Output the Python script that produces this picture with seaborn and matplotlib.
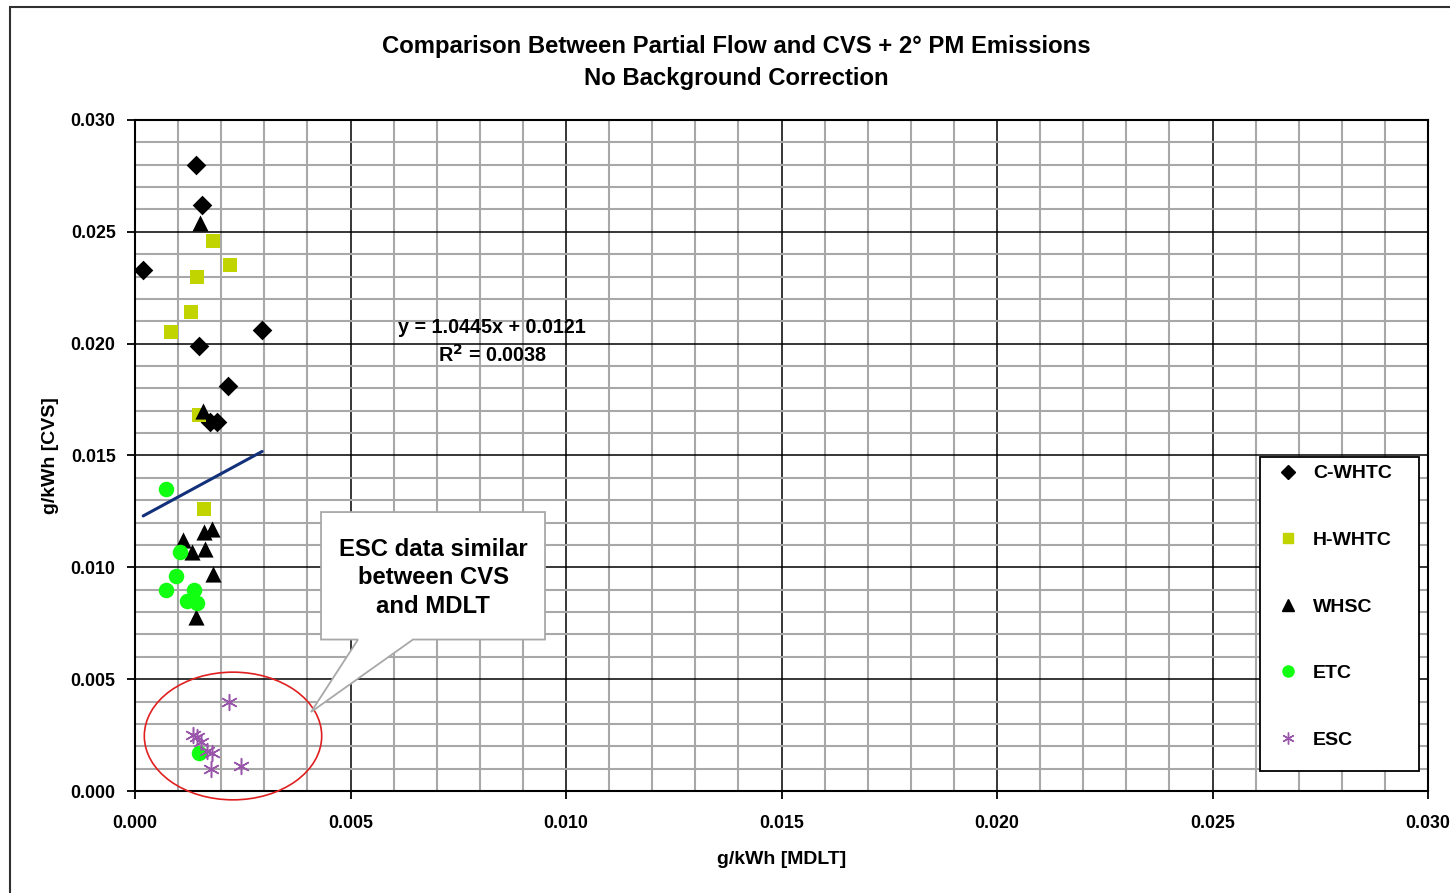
import numpy as np
import pandas as pd
import matplotlib
matplotlib.use("Agg")
import matplotlib.pyplot as plt
import seaborn as sns
from matplotlib.ticker import MultipleLocator, FormatStrFormatter
from matplotlib.patches import Ellipse, Polygon, Rectangle
from matplotlib.lines import Line2D

# ---- data: g/kWh, MDLT (x) vs CVS (y) ----
cwhtc_x = [0.00142, 0.00155, 0.00019, 0.00295, 0.00148, 0.00216, 0.00174, 0.00190]
cwhtc_y = [0.0280, 0.0262, 0.0233, 0.0206, 0.0199, 0.0181, 0.0165, 0.0165]

hwhtc_x = [0.00182, 0.00220, 0.00143, 0.00129, 0.00084, 0.00149, 0.00160]
hwhtc_y = [0.0246, 0.0235, 0.0230, 0.0214, 0.0205, 0.0168, 0.0126]

whsc_x = [0.00151, 0.00157, 0.00112, 0.00132, 0.00162, 0.00178, 0.00160, 0.00180, 0.00141]
whsc_y = [0.0254, 0.0170, 0.0112, 0.0107, 0.0108, 0.0117, 0.0116, 0.0097, 0.0078]

etc_x = [0.00073, 0.00104, 0.00094, 0.00073, 0.00137, 0.00121, 0.00145, 0.00149]
etc_y = [0.0135, 0.0107, 0.0096, 0.0090, 0.0090, 0.0085, 0.0084, 0.0017]

esc_x = [0.00217, 0.00135, 0.00143, 0.00152, 0.00178, 0.00176, 0.00246, 0.00168]
esc_y = [0.0040, 0.0025, 0.0024, 0.0022, 0.0017, 0.0010, 0.0011, 0.0018]

# linear trend fitted over all points
trend_slope = 1.0445
trend_intercept = 0.0121
trend_r2 = 0.0038

axis_ticks = [0.000, 0.005, 0.010, 0.015, 0.020, 0.025, 0.030]
series_names = ["C-WHTC", "H-WHTC", "WHSC", "ETC", "ESC"]

# ---- styling ----
sns.set_style("white")
plt.rcParams["font.family"] = ["Liberation Sans", "DejaVu Sans"]
plt.rcParams["font.weight"] = "bold"
for key in ("text.color", "axes.labelcolor", "xtick.color", "ytick.color"):
    plt.rcParams[key] = "black"

W, H = 1450, 893
fig = plt.figure(figsize=(W / 100, H / 100), dpi=100)
ax = fig.add_axes([135 / W, (H - 791) / H, 1293 / W, 671 / H])

# chart-area frame
fig.patches.append(Rectangle((10 / W, -0.05), 1.1, (H - 7.5) / H + 0.05,
                             transform=fig.transFigure, fill=False,
                             edgecolor="#303030", linewidth=1.5, zorder=0))

styles = {
    "C-WHTC": dict(marker="D", color="black", s=100),
    "H-WHTC": dict(marker="s", color="#c2d400", s=100),
    "WHSC": dict(marker="^", color="black", s=135),
    "ETC": dict(marker="o", color="#11ff11", s=125),
    "ESC": dict(marker=(6, 2, 0), color="#9955aa", s=130),
}
data = {
    "C-WHTC": (cwhtc_x, cwhtc_y),
    "H-WHTC": (hwhtc_x, hwhtc_y),
    "WHSC": (whsc_x, whsc_y),
    "ETC": (etc_x, etc_y),
    "ESC": (esc_x, esc_y),
}

for name in series_names:
    xs, ys = data[name]
    st = styles[name]
    df = pd.DataFrame({"MDLT": xs, "CVS": ys})
    kw = dict(linewidth=0, edgecolor=st["color"]) if name != "ESC" else dict(linewidth=1.1)
    sns.scatterplot(data=df, x="MDLT", y="CVS", ax=ax, marker=st["marker"],
                    color=st["color"], s=st["s"], zorder=4, legend=False, **kw)

# trend line across the data range
all_x = np.concatenate([cwhtc_x, hwhtc_x, whsc_x, etc_x, esc_x])
tx = np.array([all_x.min(), all_x.max()])
trend_df = pd.DataFrame({"MDLT": tx, "CVS": trend_slope * tx + trend_intercept})
sns.lineplot(data=trend_df, x="MDLT", y="CVS", ax=ax, color="#13307a",
             linewidth=2.2, zorder=5)

ax.text(0.00828, 0.02074, f"y = {trend_slope:.4f}x + {trend_intercept:.4f}",
        ha="center", va="center", fontsize=14.2, fontweight="bold", zorder=6)
ax.text(0.00830, 0.01949, f"R$^2$ = {trend_r2:.4f}",
        ha="center", va="center", fontsize=14.2, fontweight="bold", zorder=6)

# axes, ticks, grid
ax.set_xlim(0, 0.030)
ax.set_ylim(0, 0.030)
ax.set_xticks(axis_ticks)
ax.set_yticks(axis_ticks)
ax.xaxis.set_minor_locator(MultipleLocator(0.001))
ax.yaxis.set_minor_locator(MultipleLocator(0.001))
ax.xaxis.set_major_formatter(FormatStrFormatter("%.3f"))
ax.yaxis.set_major_formatter(FormatStrFormatter("%.3f"))
ax.tick_params(which="major", direction="out", length=6, width=1.3, color="black",
               labelsize=12.8, pad=11, bottom=True, left=True)
ax.tick_params(which="minor", length=0)
for lab in ax.get_xticklabels() + ax.get_yticklabels():
    lab.set_fontweight("bold")
ax.tick_params(axis="y", pad=8)
ax.grid(which="minor", color="#a8a8a8", linewidth=1.5, zorder=0)
ax.grid(which="major", color="black", linewidth=1.1, zorder=1)
ax.set_axisbelow(True)
for sp in ax.spines.values():
    sp.set_color("black")
    sp.set_linewidth(1.5)
    sp.set_visible(True)

ax.set_xlabel("g/kWh [MDLT]", fontsize=14, fontweight="bold", labelpad=14)
ax.set_ylabel("g/kWh [CVS]", fontsize=14, fontweight="bold", labelpad=8)

# title
fig.text(736.5 / W, 1 - 46.5 / H, "Comparison Between Partial Flow and CVS + 2° PM Emissions",
         ha="center", va="center", fontsize=17.2, fontweight="bold")
fig.text(736.5 / W, 1 - 78.5 / H, "No Background Correction",
         ha="center", va="center", fontsize=17.2, fontweight="bold")

# ellipse around the ESC group
ax.add_patch(Ellipse((0.002274, 0.002459), 0.004116, 0.005709, fill=False,
                     edgecolor="#e02020", linewidth=1.2, clip_on=False, zorder=6))

# callout box with pointer
L, R, T, B = 0.004316, 0.009513, 0.012472, 0.006772
callout = Polygon([(L, T), (R, T), (R, B), (0.00645, B), (0.004084, 0.003532),
                   (0.005174, B), (L, B)], closed=True, facecolor="white",
                  edgecolor="#a8a8a8", linewidth=1.3, zorder=7)
ax.add_patch(callout)
ax.text((L + R) / 2, 0.00953, "ESC data similar\nbetween CVS\nand MDLT",
        ha="center", va="center", fontsize=17.2, fontweight="bold",
        linespacing=1.3, zorder=8)

# legend
ax.add_patch(Rectangle((0.870, 0.0298), 0.123, 0.468, transform=ax.transAxes,
                       facecolor="white", edgecolor="black", linewidth=1.3, zorder=9))
handles = []
for name in series_names:
    st = styles[name]
    if name == "ESC":
        h = Line2D([], [], linestyle="none", marker=st["marker"], markersize=8.5,
                   markeredgecolor=st["color"], markeredgewidth=1.0)
    else:
        ms = {"D": 7, "s": 7.5, "^": 8, "o": 8}[st["marker"]]
        h = Line2D([], [], linestyle="none", marker=st["marker"], markersize=ms,
                   markerfacecolor=st["color"], markeredgecolor=st["color"])
    handles.append(h)
leg = ax.legend(handles, series_names, loc="upper left",
                bbox_to_anchor=(0.870, 0.4978), borderaxespad=0, frameon=False,
                labelspacing=2.52, handlelength=2.08,
                handletextpad=0.25, borderpad=0.4,
                prop={"weight": "bold", "size": 14})
leg.set_zorder(10)

fig.savefig("out.png", dpi=100)
